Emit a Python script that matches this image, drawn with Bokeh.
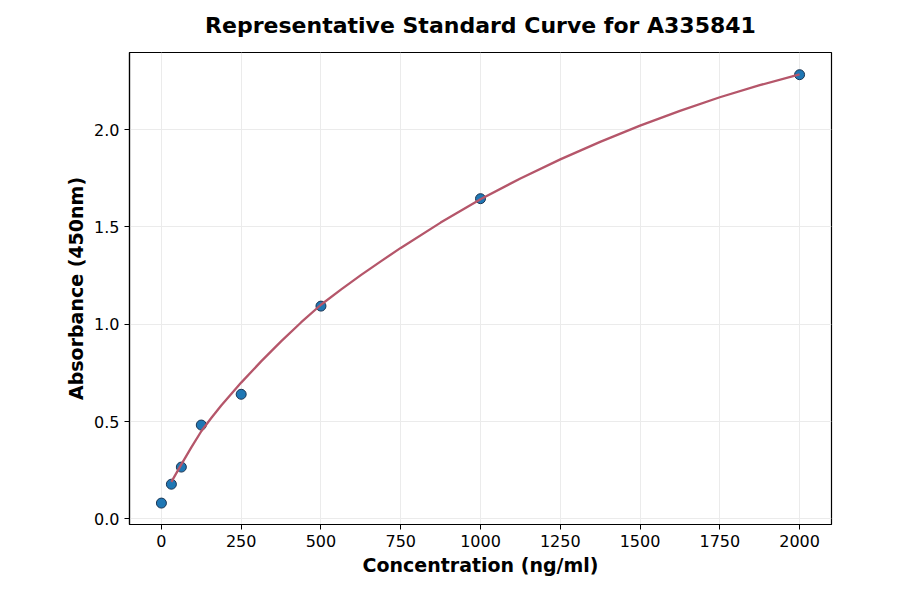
from bokeh.plotting import figure
from bokeh.models import ColumnDataSource, FixedTicker, NumeralTickFormatter, Range1d
from bokeh.embed import file_html
from bokeh.resources import INLINE

# standard points
conc = [0, 31.25, 62.5, 125, 250, 500, 1000, 2000]
absorb = [0.081, 0.178, 0.266, 0.482, 0.640, 1.093, 1.645, 2.282]

# fitted curve
curve_x = [31.25, 62.5, 93.75, 125, 156.25, 187.5, 218.75, 250, 312.5, 375, 437.5, 500,
           562.5, 625, 687.5, 750, 875, 1000, 1125, 1250, 1375, 1500, 1625, 1750, 1875, 2000]
curve_y = [0.19, 0.28, 0.367, 0.45, 0.518, 0.582, 0.642, 0.70, 0.809, 0.912, 1.009, 1.10,
           1.178, 1.252, 1.323, 1.392, 1.522, 1.642, 1.749, 1.847, 1.937, 2.02, 2.096, 2.166,
           2.228, 2.284]

x_ticks = [0, 250, 500, 750, 1000, 1250, 1500, 1750, 2000]
y_ticks = [0.0, 0.5, 1.0, 1.5, 2.0]

pts = ColumnDataSource(data=dict(x=conc, y=absorb))
fit = ColumnDataSource(data=dict(x=curve_x, y=curve_y))

p = figure(width=884, height=578, output_backend="svg", toolbar_location=None, tools="",
           title="Representative Standard Curve for A335841",
           x_axis_label="Concentration (ng/ml)", y_axis_label="Absorbance (450nm)",
           x_range=Range1d(-100, 2100), y_range=Range1d(-0.029, 2.396),
           min_border_left=129, min_border_right=53, min_border_top=51, min_border_bottom=51)

p.scatter(x='x', y='y', source=pts, size=10, fill_color="#1f77b4", line_color="#1c3553", line_width=1)
p.line(x='x', y='y', source=fit, line_color="#b5566a", line_width=2.3, line_join="round")

# title
p.title.align = "center"
p.title.vertical_align = "top"
p.title.text_font = "DejaVu Sans"
p.title.text_font_size = "22px"
p.title.text_font_style = "bold"
p.title.text_color = "black"
p.title.standoff = 25

# axes
p.xaxis.ticker = FixedTicker(ticks=x_ticks)
p.yaxis.ticker = FixedTicker(ticks=y_ticks)
p.yaxis.formatter = NumeralTickFormatter(format="0.0")
for ax in [p.xaxis, p.yaxis]:
    ax.axis_label_text_font = "DejaVu Sans"
    ax.axis_label_text_font_size = "19px"
    ax.axis_label_text_font_style = "bold"
    ax.axis_label_text_color = "black"
    ax.major_label_text_font = "DejaVu Sans"
    ax.major_label_text_font_size = "16px"
    ax.major_label_text_color = "black"
    ax.minor_tick_line_color = None
    ax.major_tick_in = 0
    ax.major_tick_out = 5
    ax.major_tick_line_color = "black"
    ax.axis_line_color = "black"
    ax.axis_line_width = 1.2
p.xaxis.axis_label_standoff = 4
p.yaxis.axis_label_standoff = 4

p.grid.grid_line_color = "#ebebeb"
p.grid.grid_line_width = 1
p.outline_line_color = "black"
p.outline_line_width = 1.2
p.background_fill_color = "white"
p.border_fill_color = "white"

open("out.html", "w").write(file_html(p, INLINE))
